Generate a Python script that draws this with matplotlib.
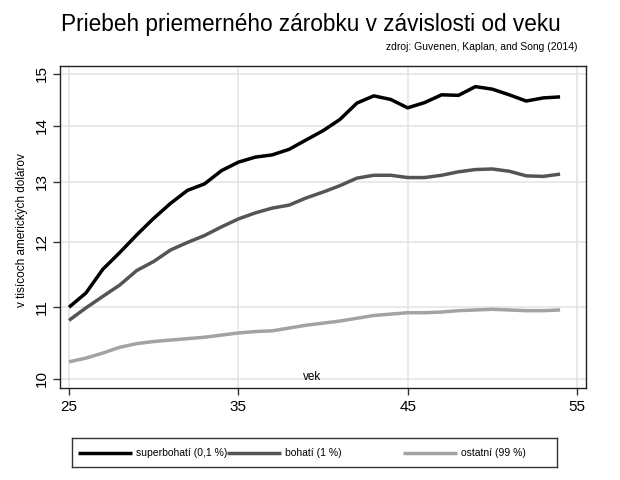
import numpy as np
import matplotlib
matplotlib.use("Agg")
import matplotlib.pyplot as plt
from matplotlib.ticker import FixedLocator, NullLocator, FixedFormatter

plt.rcParams['font.family'] = ['Liberation Sans', 'DejaVu Sans']

# vek (roky)
vek = list(range(25, 55))

# priemerny zarobok v tisicoch USD, odcitane z grafu
superbohati = [11.00, 11.21, 11.57, 11.83, 12.11, 12.38, 12.63, 12.85, 12.96, 13.19,
               13.34, 13.43, 13.47, 13.57, 13.74, 13.91, 14.12, 14.43, 14.57, 14.50,
               14.34, 14.44, 14.59, 14.58, 14.75, 14.70, 14.59, 14.47, 14.53, 14.55]
bohati = [10.81, 10.99, 11.16, 11.33, 11.55, 11.69, 11.87, 11.99, 12.10, 12.24,
          12.37, 12.47, 12.55, 12.60, 12.72, 12.82, 12.93, 13.06, 13.11, 13.11,
          13.07, 13.07, 13.11, 13.17, 13.21, 13.22, 13.18, 13.10, 13.09, 13.13]
ostatni = [10.23, 10.28, 10.35, 10.43, 10.48, 10.51, 10.53, 10.55, 10.57, 10.60,
           10.63, 10.65, 10.66, 10.70, 10.74, 10.77, 10.80, 10.84, 10.88, 10.90,
           10.92, 10.92, 10.93, 10.95, 10.96, 10.97, 10.96, 10.95, 10.95, 10.96]

nazvy = ['superbohatí (0,1 %)', 'bohatí (1 %)', 'ostatní (99 %)']
farby = ['#000000', '#555555', '#a3a3a3']

x_ticks = [25, 35, 45, 55]
y_ticks = [10, 11, 12, 13, 14, 15]

fig = plt.figure(figsize=(6.2, 4.8), dpi=100)
ax = fig.add_axes([60/620, 1-388/480, 526/620, 322/480])

for serie, farba in zip([superbohati, bohati, ostatni], farby):
    ax.plot(vek, serie, color=farba, lw=2.5, solid_capstyle='butt', zorder=3)

ax.set_yscale('log')
ax.set_xlim(24.47, 55.53)
ax.set_ylim(9.88, 15.16)
ax.yaxis.set_major_locator(FixedLocator(y_ticks))
ax.yaxis.set_major_formatter(FixedFormatter([str(t) for t in y_ticks]))
ax.yaxis.set_minor_locator(NullLocator())
ax.set_xticks(x_ticks)
ax.grid(True, color='#e3e3e3', lw=1.1, zorder=0)

for s in ax.spines.values():
    s.set_linewidth(1.0)
    s.set_color('#222222')

ax.tick_params(axis='both', length=5, width=1, color='#333333', labelsize=11)
ax.tick_params(axis='y', labelrotation=90, pad=3)
for lab in ax.get_yticklabels():
    lab.set_va('center')

ax.text(0.48, 0.015, 'vek', transform=ax.transAxes, ha='center', va='bottom', fontsize=8.5)
fig.text(22/620, 1-230/480, 'v tisícoch amerických dolárov', rotation=90,
         ha='center', va='center', fontsize=8.5)

fig.text(311/620, 1-24/480, 'Priebeh priemerného zárobku v závislosti od veku',
         ha='center', va='center', fontsize=16.3)
fig.text(578/620, 1-47/480, 'zdroj: Guvenen, Kaplan, and Song (2014)',
         ha='right', va='center', fontsize=7.5)

# legenda
lg = fig.add_axes([72/620, 1-467/480, 485/620, 29/480])
lg.set_xlim(72, 557)
lg.set_ylim(0, 1)
lg.set_xticks([])
lg.set_yticks([])
for s in lg.spines.values():
    s.set_linewidth(1.0)
    s.set_color('#333333')
zaciatky = [78, 227, 403]
for x0, farba, nazov in zip(zaciatky, farby, nazvy):
    lg.plot([x0, x0 + 54], [0.5, 0.5], color=farba, lw=2.5, solid_capstyle='butt')
    lg.text(x0 + 58, 0.5, nazov, ha='left', va='center', fontsize=7.5)

fig.savefig('out.png', dpi=100)
